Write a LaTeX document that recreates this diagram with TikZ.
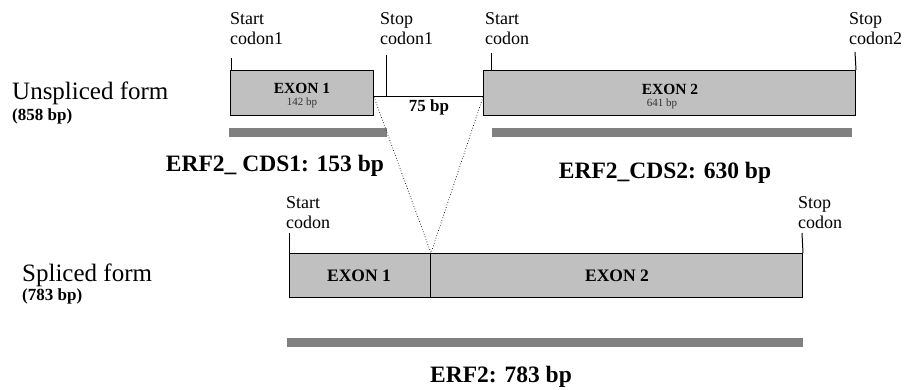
\documentclass[tikz,border=0pt]{standalone}
\usepackage{fontspec}
\setmainfont{Liberation Serif}
\definecolor{boxgray}{RGB}{192,192,192}
\definecolor{bargray}{RGB}{128,128,128}
\begin{document}
\begin{tikzpicture}[x=1pt,y=-1pt,
  exon/.style={draw, fill=boxgray, line width=1pt, inner sep=0pt, anchor=north west},
  cdsbar/.style={fill=bargray, draw=none, inner sep=0pt, anchor=north west, minimum height=9pt},
  tickline/.style={line width=1pt},
  codon/.style={font=\fontsize{18}{20}\selectfont, align=left, inner sep=0pt, anchor=base west},
  formlbl/.style={font=\fontsize{25}{25}\selectfont, inner sep=0pt, anchor=base west},
  sizelbl/.style={font=\fontsize{17}{17}\selectfont\bfseries, inner sep=0pt, anchor=base west},
  cdslbl/.style={font=\fontsize{23.5}{24}\selectfont\bfseries, inner sep=0pt, anchor=base},
  exonname/.style={font=\fontsize{15.5}{16}\selectfont\bfseries, inner sep=0pt, anchor=base},
  exonsize/.style={font=\fontsize{11}{11}\selectfont, inner sep=0pt, anchor=base, text=black!80},
  splice/.style={dotted, line width=0.7pt}]
\useasboundingbox (0,0) rectangle (908,390);

% ---- left labels
\node[formlbl] (uf) at (12,100) {Unspliced form};
\node[sizelbl] (ub) at (12,121) {(858 bp)};
\node[formlbl] (sf) at (22,282) {Spliced form};
\node[sizelbl] (sb) at (22,301) {(783 bp)};

% ---- unspliced form
\node[exon, minimum width=143pt, minimum height=45pt] (u1) at (230,70) {};
\node[exonname] (u1n) at (302,94) {EXON 1};
\node[exonsize] (u1s) at (302,106) {142 bp};
\node[exon, minimum width=372pt, minimum height=45pt] (u2) at (483,70) {};
\node[exonname] (u2n) at (670,95) {EXON 2};
\node[exonsize] (u2s) at (662,107) {641 bp};

\coordinate (iy) at (0,97);
\draw[tickline] (u1.east |- iy) -- (u2.west |- iy);
\node[font=\fontsize{17}{17}\selectfont\bfseries, inner sep=0pt, anchor=base] (l75) at (429,112) {75 bp};

% codon ticks and labels
\coordinate (tk1) at (231,58);
\draw[tickline] (tk1) -- (tk1 |- u1.north);
\node[codon] (c1) at (230,45) {Start\\codon1};

\coordinate (tk2) at (386,55);
\draw[tickline] (tk2) -- (tk2 |- iy);
\node[codon] (c2) at (380,45) {Stop\\codon1};

\coordinate (tk3) at (491,53);
\draw[tickline] (tk3) -- (tk3 |- u2.north);
\node[codon] (c3) at (485,45) {Start\\codon};

\coordinate (tk4) at (855,52);
\draw[tickline] (tk4) -- (u2.north east);
\node[codon] (c4) at (849,45) {Stop\\codon2};

% CDS bars
\node[cdsbar, minimum width=158pt] (b1) at (229,128) {};
\node[cdsbar, minimum width=360pt] (b2) at (492,128) {};
\node[cdslbl] (cds1) at (275,172) {ERF2\_ CDS1: 153 bp};
\node[cdslbl] (cds2) at (665,179) {ERF2\_CDS2: 630 bp};

% ---- spliced form
\node[exon, minimum width=141pt, minimum height=44pt] (s1) at (289,253) {};
\node[exonname, font=\fontsize{17.5}{18}\selectfont\bfseries] (s1n) at (359,281) {EXON 1};
\node[exon, minimum width=372pt, minimum height=44pt] (s2) at (430,253) {};
\node[exonname, font=\fontsize{17.5}{18}\selectfont\bfseries] (s2n) at (617,281) {EXON 2};

\coordinate (tk5) at (289,233);
\draw[tickline] (tk5) -- (s1.north west);
\node[codon] (c5) at (286,229) {Start\\codon};

\coordinate (tk6) at (802,233);
\draw[tickline] (tk6) -- (s2.north east);
\node[codon] (c6) at (798,229) {Stop\\codon};

\node[cdsbar, minimum width=516pt] (b3) at (287,338) {};
\node[cdslbl] (erf) at (501,382) {ERF2: 783 bp};

% ---- splice lines
\draw[splice] (u1.east |- iy) -- (s1.north east);
\draw[splice] (u2.west |- iy) -- (s1.north east);
\end{tikzpicture}
\end{document}
